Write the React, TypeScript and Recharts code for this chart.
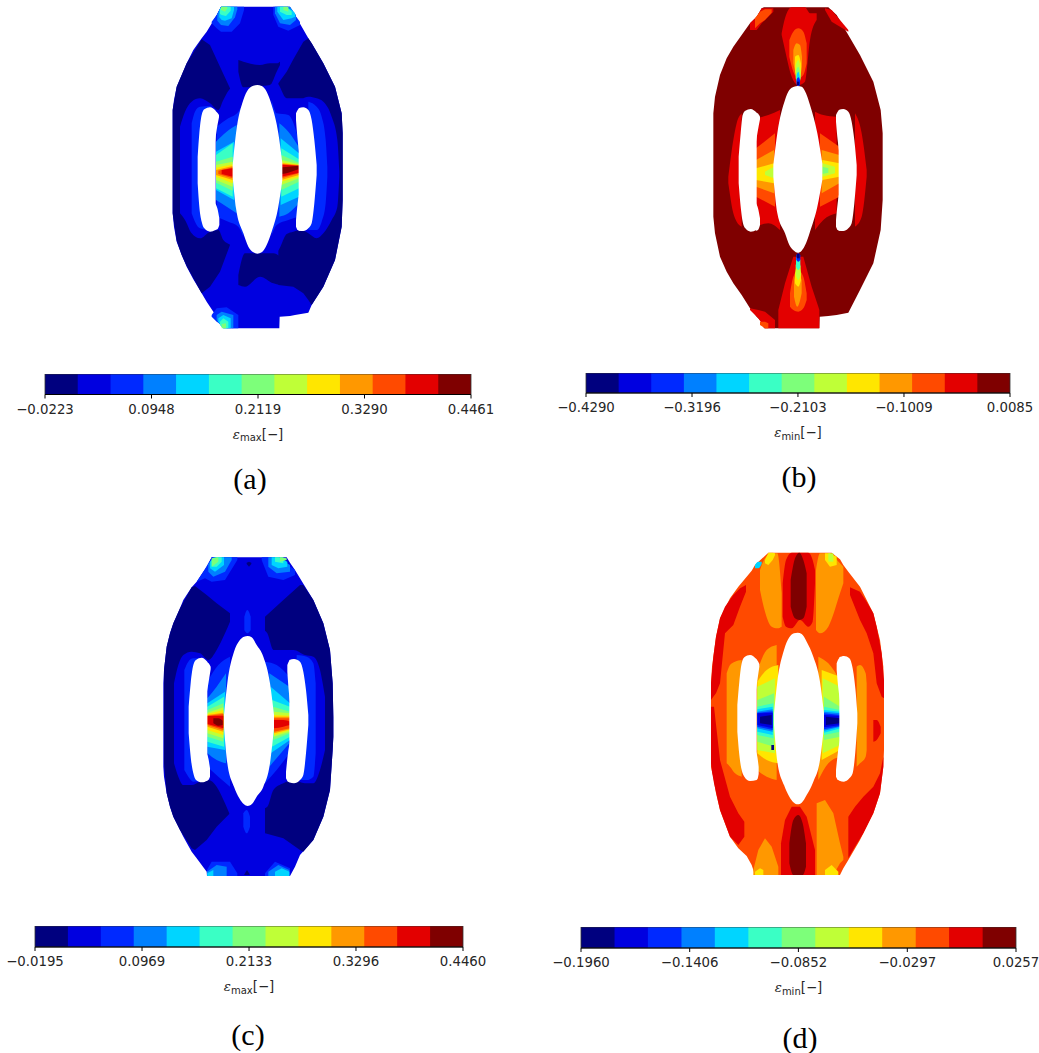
import React from "react";
import { ComposedChart, Area, XAxis, YAxis, ReferenceArea } from "recharts";

const jet = ["#00007f","#0000e0","#0029ff","#0080ff","#00d5ff","#3affc5","#7dff7a","#bfff37","#ffe600","#ff9800","#ff4a00","#e30000","#7f0000"];
const W = "#ffffff";
const L = "linear";
type Row = [number, number, number];
type Layer = [number | string, Row[], string?];

const holesA: Layer[] = [
  [W,[[218,495,530],[228,400,625],[250,300,700],[265,268,740],[280,257,757],[292,255,761],[305,258,757],[320,275,735],[335,315,695],[355,400,620],[367,490,540]]],
  [W,[[113,470,550],[118,400,620],[125,345,665],[133,328,685],[150,322,695],[167,332,690]]],
  [W,[[165,332,425],[170,336,390],[177,345,352]]],
  [W,[[165,610,690],[172,625,688],[178,655,675]]],
  [W,[[416,325,692],[430,322,693],[445,330,685],[455,360,670],[463,420,610],[470,495,525]]],
  [W,[[408,340,360],[413,330,420],[420,325,470]]],
  [W,[[408,660,680],[413,610,690],[420,570,692]]],
];
const layersA: Layer[] = [
  [1,[[38,330,640],[42,300,680],[50,260,725],[65,225,765],[80,190,800],[100,150,838],[125,115,880],[140,95,905],[160,62,935],[170,45,948],[183,20,965],[190,20,985],[358,20,985],[359,20,950],[390,20,948],[405,45,945],[445,115,938],[455,130,915],[490,190,860],[525,260,780],[545,340,680],[548,400,600]],L],
  [0,[[38,330,640],[50,260,722],[65,225,765],[80,190,798],[125,118,880],[150,135,860],[180,200,815],[210,265,735]],L],
  [0,[[355,250,855],[380,215,858],[400,178,860],[430,125,880],[445,115,900],[455,130,915],[490,190,860],[525,260,780],[545,340,680],[548,400,600]],L],
  [0,[[235,180,215],[250,185,262],[300,195,258],[330,190,255],[350,190,215],[360,185,195]]],
  [0,[[235,825,855],[255,760,860],[300,760,830],[340,760,850],[360,770,855]]],
  [1,[[60,380,640],[75,335,660],[95,305,700],[120,295,715],[150,310,695],[175,330,690],[190,300,720],[212,265,735],[240,255,760]]],
  [1,[[330,255,740],[350,250,755],[380,295,702],[400,295,695],[425,295,690],[445,290,700],[470,295,715],[490,305,700],[515,350,660],[532,420,620],[538,515,530]]],
  [2,[[95,370,640],[105,335,665],[120,320,685],[150,318,690],[165,340,670]]],
  [2,[[445,305,690],[470,320,690],[485,350,665],[497,420,610],[502,500,530]]],
  [2,[[170,380,650],[205,355,665],[235,335,680],[250,310,710]]],
  [2,[[335,300,705],[350,340,675],[385,345,660],[415,415,650]]],
  [3,[[168,425,600],[200,395,620],[230,375,640]]],
  [3,[[358,370,650],[385,395,640],[416,440,610]]],
  [4,[[168,455,570],[222,425,600]]],
  [4,[[362,415,615],[417,460,590]]],
  [5,[[168,465,565],[218,430,590]]],
  [5,[[364,445,590],[417,478,565]]],
  [6,[[168,485,548],[218,470,572]]],
  [6,[[364,465,570],[417,488,545]]],
  [7,[[168,495,540],[218,485,560]]],
  [7,[[364,480,555],[417,492,535]]],
  [8,[[168,503,530],[218,493,550]]],
  [8,[[364,487,545],[417,495,530]]],
  [9,[[168,510,525],[218,498,540]]],
  [9,[[364,490,540],[417,495,525]]],
  [10,[[175,512,522],[218,502,535]]],
  [10,[[364,492,535],[417,497,520]]],
  [11,[[185,510,522],[218,505,530]]],
  [11,[[364,494,530],[417,497,518]]],
  [12,[[366,502,522],[385,500,518],[415,497,508]]],
  [2,[[155,65,70],[170,45,85],[183,20,95],[215,20,95],[240,20,70],[252,20,30]],L],
  [3,[[172,42,62],[183,20,75],[205,20,78],[225,20,52],[232,20,28]],L],
  [4,[[178,30,52],[185,20,60],[195,20,62],[215,20,55],[222,20,30]],L],
  [5,[[180,27,42],[185,20,45],[198,20,48],[212,20,32]],L],
  [6,[[183,20,30],[195,20,35],[202,20,25]],L],
  [2,[[340,20,45],[355,20,80],[385,20,92],[420,65,75]],L],
  [3,[[345,20,40],[360,20,70],[390,20,75],[408,45,60]],L],
  [4,[[352,20,35],[370,20,60],[395,30,55],[405,40,50]],L],
  [5,[[360,20,35],[380,20,45],[395,35,45]],L],
  [6,[[370,20,30],[385,20,35]],L],
  [2,[[155,945,950],[170,925,965],[200,922,985],[235,945,985]],L],
  [3,[[170,945,960],[185,935,980],[220,945,985]],L],
  [4,[[175,955,965],[190,945,985],[212,955,985]],L],
  [5,[[180,965,975],[190,955,985],[205,965,985]],L],
  [6,[[185,972,985],[198,970,985]],L],
  ...holesA,
];

const holesB: Layer[] = [
  [W,[[220,495,530],[232,400,640],[255,300,700],[268,270,735],[282,260,752],[293,258,758],[305,260,752],[318,280,730],[330,315,695],[352,400,620],[367,490,540]]],
  [W,[[116,470,550],[122,400,620],[128,345,665],[136,332,685],[152,327,695],[170,338,690]]],
  [W,[[168,338,425],[173,340,395],[180,350,358]]],
  [W,[[168,610,692],[174,625,690],[180,655,675]]],
  [W,[[416,330,692],[430,327,693],[445,335,685],[455,365,670],[463,420,610],[470,495,525]]],
  [W,[[408,345,365],[413,335,420],[420,330,470]]],
  [W,[[408,660,680],[413,610,690],[420,570,692]]],
];
const layersB: Layer[] = [
  [12,[[40,340,650],[45,290,700],[60,225,770],[80,175,815],[100,140,850],[125,105,885],[150,70,925],[170,50,950],[185,25,965],[192,22,985],[358,22,985],[359,22,950],[385,22,948],[410,45,945],[445,105,938],[480,165,870],[520,245,790],[542,330,690],[548,400,600]],L],
  [11,[[245,100,105],[255,55,150],[275,22,230],[295,22,255],[315,22,245],[330,40,120],[350,40,60]]],
  [11,[[150,70,90],[170,50,90],[185,25,70],[220,25,35]],L],
  [11,[[375,25,30],[395,30,65],[420,60,80],[445,90,95]],L],
  [10,[[165,55,85],[180,35,70],[195,28,60],[215,28,38]],L],
  [10,[[268,120,170],[280,95,215],[295,85,235],[310,95,225],[320,130,190]]],
  [9,[[280,150,190],[290,130,225],[300,135,230],[306,170,200]]],
  [8,[[285,170,215],[295,165,240],[303,190,220]]],
  [7,[[287,195,235],[295,180,245],[302,210,235]]],
  [6,[[289,210,240],[295,200,250],[301,225,240]]],
  [4,[[290,225,250],[295,215,255],[300,235,250]]],
  [2,[[290,238,255],[295,232,258],[300,240,255]]],
  [0,[[291,245,255],[298,245,255]]],
  [11,[[235,930,985],[255,850,985],[280,770,985],[310,770,985],[335,860,985],[355,920,985],[358,930,985]],L],
  [10,[[270,880,920],[280,830,930],[295,810,935],[310,830,925],[320,880,900]]],
  [9,[[282,840,890],[292,810,920],[305,840,880]]],
  [8,[[285,820,850],[295,790,860],[303,820,840]]],
  [7,[[287,795,825],[295,780,840],[302,800,825]]],
  [5,[[288,775,800],[295,768,810],[301,780,800]]],
  [2,[[289,765,780],[295,760,785],[301,765,780]]],
  [0,[[291,762,775],[299,762,775]]],
  [11,[[150,925,930],[175,930,955],[195,935,985],[225,960,985]],L],
  [10,[[180,965,975],[195,965,985],[205,970,985]],L],
  [11,[[85,530,550],[100,420,640],[110,370,665],[125,340,680]]],
  [11,[[168,355,680],[205,345,670],[240,330,690]]],
  [11,[[345,335,690],[370,345,660],[410,350,640]]],
  [11,[[465,340,680],[485,400,650],[500,510,530]]],
  [10,[[168,445,590],[225,400,620]]],
  [9,[[168,480,560],[222,450,580]]],
  [8,[[168,505,540],[222,490,550]]],
  [7,[[195,515,525],[222,500,535]]],
  [10,[[360,400,620],[418,440,590]]],
  [9,[[365,450,580],[418,465,550]]],
  [8,[[367,480,540],[418,490,530]]],
  [7,[[367,490,530],[405,500,520]]],
  [6,[[367,500,522],[385,505,518]]],
  ...holesB,
];

const holesC: Layer[] = [
  [W,[[222,495,530],[232,400,640],[252,305,710],[268,272,745],[282,260,763],[293,258,768],[305,262,763],[320,285,740],[340,320,710],[360,400,640],[372,495,535]]],
  [W,[[116,470,550],[122,400,620],[130,345,670],[138,330,690],[155,323,697],[172,335,692]]],
  [W,[[170,335,430],[176,340,395],[182,350,358]]],
  [W,[[170,610,692],[175,625,690],[180,655,680]]],
  [W,[[418,330,697],[432,327,700],[450,335,690],[460,365,675],[468,420,610],[475,495,525]]],
  [W,[[412,345,365],[416,335,420],[422,330,470]]],
  [W,[[408,665,685],[414,610,695],[422,570,697]]],
];
const layersC: Layer[] = [
  [1,[[40,400,650],[42,360,680],[50,290,730],[60,250,770],[70,220,800],[90,175,840],[100,150,860],[125,112,905],[140,95,925],[170,50,965],[171,50,978],[185,22,978],[410,22,978],[420,38,978],[435,60,950],[450,85,915],[490,150,870],[520,220,800],[540,300,720],[548,400,600],[550,500,560]],L],
  [0,[[42,360,640],[50,290,730],[60,250,770],[70,220,800],[90,175,840],[125,112,895],[135,108,900],[170,135,870],[200,160,830],[240,190,790]],L],
  [0,[[345,200,850],[400,150,865],[450,105,900],[460,105,905],[490,150,870],[520,220,800],[540,300,720],[548,400,600],[550,500,560]],L],
  [1,[[72,400,640],[85,345,680],[100,315,705],[125,305,705],[150,310,695],[175,330,690],[200,300,710],[225,250,760],[240,215,795]]],
  [1,[[340,240,775],[352,250,770],[370,300,720],[400,300,700],[430,300,690],[465,315,700],[490,320,700],[510,360,660],[525,440,600]]],
  [2,[[103,360,660],[115,335,680],[130,325,695],[160,325,690]]],
  [2,[[440,315,690],[470,320,690],[490,340,680],[497,400,610]]],
  [2,[[283,200,240],[292,180,250],[302,200,240]]],
  [2,[[280,790,830],[290,780,850],[300,800,830]]],
  [2,[[172,395,650],[205,345,680],[240,320,710]]],
  [2,[[345,335,700],[380,345,660],[418,380,610]]],
  [3,[[172,445,610],[200,410,630],[228,370,640]]],
  [3,[[358,370,650],[418,410,580]]],
  [4,[[172,460,590],[225,425,600]]],
  [4,[[362,410,610],[420,460,570]]],
  [5,[[172,470,575],[222,440,590]]],
  [5,[[366,450,590],[420,470,560]]],
  [6,[[172,480,560],[220,460,575]]],
  [6,[[370,470,570],[420,485,550]]],
  [7,[[172,488,550],[220,472,565]]],
  [7,[[372,485,560],[420,490,545]]],
  [8,[[172,492,540],[220,480,555]]],
  [8,[[372,495,555],[420,497,540]]],
  [9,[[172,495,530],[220,488,545]]],
  [9,[[372,500,550],[420,500,538]]],
  [10,[[172,497,525],[220,492,540]]],
  [10,[[372,505,545],[420,505,535]]],
  [11,[[172,498,522],[220,497,535]]],
  [11,[[372,510,535],[400,510,530],[420,515,525]]],
  [12,[[190,505,520],[205,505,527],[218,512,525]]],
  [2,[[140,95,95],[165,57,85],[185,22,95],[225,22,90],[262,22,30]],L],
  [3,[[175,42,65],[190,22,80],[225,22,65],[245,22,30]],L],
  [4,[[180,35,55],[195,22,65],[222,22,45]],L],
  [5,[[185,30,50],[200,22,50],[215,22,35]],L],
  [6,[[185,25,50],[205,22,35]],L],
  [2,[[335,22,30],[355,22,80],[400,35,90],[435,60,75]],L],
  [3,[[355,22,50],[380,22,70],[420,45,65]],L],
  [4,[[365,22,45],[385,22,55],[412,35,50]],L],
  [5,[[375,22,35],[400,22,40]],L],
  [6,[[390,22,35],[410,25,30]],L],
  [0,[[290,38,42],[297,35,50],[304,38,42]],L],
  [2,[[171,960,970],[185,935,978],[240,935,978],[262,970,978]],L],
  [3,[[171,965,978],[200,945,978],[230,950,978]],L],
  [4,[[172,970,978],[190,960,978]],L],
  [2,[[345,970,978],[375,935,978],[420,955,978]],L],
  [3,[[355,965,978],[385,945,978],[418,960,978]],L],
  [4,[[375,965,978],[395,955,978],[418,965,978]],L],
  [0,[[283,973,975],[291,960,975],[299,973,975]],L],
  ...holesC,
];

const holesD: Layer[] = [
  [W,[[222,490,525],[232,395,635],[252,300,705],[268,262,740],[282,250,758],[293,248,763],[305,252,758],[320,275,735],[340,320,695],[360,395,630],[372,490,530]]],
  [W,[[112,465,545],[118,395,615],[125,340,660],[133,322,680],[150,315,693],[170,328,690]]],
  [W,[[168,328,420],[173,332,385],[178,342,350]]],
  [W,[[168,605,690],[172,620,688],[176,650,672]]],
  [W,[[418,322,692],[432,318,695],[448,325,685],[458,355,670],[466,415,605],[472,490,520]]],
  [W,[[410,340,360],[415,328,415],[422,322,465]]],
  [W,[[408,660,680],[414,605,690],[422,565,692]]],
];
const layersD: Layer[] = [
  [10,[[33,400,650],[36,350,665],[40,320,682],[48,260,730],[60,205,780],[90,145,860],[115,110,895],[140,80,918],[155,62,945],[165,45,975],[205,8,975],[395,8,975],[420,28,975],[430,45,955],[445,65,930],[480,110,870],[520,190,790],[540,270,730],[550,350,650],[552,450,600]],L],
  [11,[[33,400,450],[40,320,440],[48,260,430],[60,205,400],[75,170,250],[100,135,225],[120,115,170],[138,105,125]],L],
  [11,[[33,470,640],[36,470,665],[42,470,700],[60,630,780],[90,740,860],[115,790,885],[133,815,860]],L],
  [11,[[450,112,135],[480,125,210],[500,155,250],[520,190,310],[530,230,400],[545,310,440],[552,390,445]],L],
  [11,[[520,510,575],[530,510,570],[542,530,550]]],
  [11,[[445,800,925],[465,770,890],[490,740,850],[520,710,790],[540,670,730],[550,620,650]],L],
  [9,[[180,60,120],[195,25,185],[215,10,230],[232,10,235],[245,130,230]]],
  [9,[[348,60,240],[360,10,250],[385,10,230],[420,40,130],[430,50,100]]],
  [8,[[195,30,40],[205,8,45],[218,8,30],[225,10,15]],L],
  [8,[[375,10,30],[390,10,50],[410,20,45]],L],
  [7,[[385,10,35],[400,10,35]],L],
  [4,[[165,45,55],[175,35,55],[185,35,42]]],
  [11,[[248,100,200],[258,30,230],[275,8,235],[300,8,210],[325,8,230],[338,30,215],[345,60,100]]],
  [12,[[272,90,170],[285,25,205],[298,8,210],[310,30,205],[320,70,170]]],
  [9,[[160,960,975],[175,900,975],[195,865,975],[215,890,975],[235,950,975]],L],
  [9,[[350,760,975],[375,750,975],[400,790,975],[420,880,940],[430,920,930]],L],
  [8,[[165,965,975],[180,955,975],[190,960,975]],L],
  [8,[[375,960,975],[395,945,975],[415,965,975]],L],
  [11,[[243,880,975],[255,810,975],[275,770,975],[300,770,975],[320,800,975],[335,860,975],[345,900,975]],L],
  [12,[[268,880,940],[280,810,975],[295,795,975],[308,820,975],[318,880,950]]],
  [9,[[80,370,640],[90,345,650],[105,335,670],[125,330,680]]],
  [9,[[470,350,650],[480,345,640],[497,370,620],[500,400,600]]],
  [9,[[170,370,660],[200,300,680],[230,285,690]]],
  [9,[[355,320,690],[385,340,640],[420,390,620]]],
  [8,[[172,395,610],[200,360,630],[235,345,640]]],
  [8,[[365,360,630],[420,380,600]]],
  [7,[[172,410,600],[225,385,610]]],
  [7,[[368,385,610],[420,410,585]]],
  [6,[[172,450,575],[222,430,590]]],
  [6,[[372,440,570],[420,470,560]]],
  [5,[[172,470,555],[220,460,565]]],
  [5,[[372,470,555],[420,480,545]]],
  [4,[[172,478,545],[218,470,555]]],
  [4,[[372,480,548],[422,485,535]]],
  [3,[[172,485,535],[218,478,545]]],
  [3,[[372,485,542],[422,490,530]]],
  [2,[[172,488,530],[218,484,540]]],
  [2,[[372,490,538],[422,495,528]]],
  [1,[[172,490,525],[218,488,535]]],
  [1,[[372,495,532],[422,498,525]]],
  [0,[[180,500,520],[215,495,525]]],
  [0,[[378,500,525],[420,505,520]]],
  [0,[[214,585,600],[222,585,600]]],
  ...holesD,
];

const edgesA = [-0.0223,0.0137,0.0498,0.0858,0.1218,0.1579,0.1939,0.2299,0.2659,0.302,0.338,0.374,0.4101,0.4461];
const ticksA = [-0.0223,0.0948,0.2119,0.329,0.4461];
const edgesB = [-0.429,-0.3953,-0.3617,-0.328,-0.2944,-0.2607,-0.2271,-0.1934,-0.1598,-0.1261,-0.0925,-0.0588,-0.0252,0.0085];
const ticksB = [-0.429,-0.3196,-0.2103,-0.1009,0.0085];
const edgesC = [-0.0195,0.0163,0.0521,0.0879,0.1237,0.1595,0.1954,0.2312,0.267,0.3028,0.3386,0.3744,0.4102,0.446];
const ticksC = [-0.0195,0.0969,0.2133,0.3296,0.446];
const edgesD = [-0.196,-0.1789,-0.1619,-0.1448,-0.1278,-0.1107,-0.0937,-0.0766,-0.0595,-0.0425,-0.0254,-0.0084,0.0087,0.0257];
const ticksD = [-0.196,-0.1406,-0.0852,-0.0297,0.0257];

function Field({ left, top, layers }: { left: number; top: number; layers: Layer[] }) {
  return (
    <div style={{ position: "absolute", left, top, filter: "blur(0.5px)" }}>
      <ComposedChart width={200} height={335} margin={{ top: 0, right: 0, bottom: 0, left: 0 }}>
        <XAxis type="number" dataKey="x" domain={[0, 600]} hide allowDataOverflow />
        <YAxis type="number" domain={[0, 1005]} reversed hide allowDataOverflow />
        {layers.map(([lv, rows, curve], i) => (
          <Area
            key={i}
            data={rows.map(([x, lo, hi]) => ({ x, band: [lo, hi] }))}
            dataKey="band"
            type={(curve || "monotone") as any}
            stroke="none"
            fill={typeof lv === "number" ? jet[lv] : lv}
            fillOpacity={1}
            dot={false}
            activeDot={false}
            isAnimationActive={false}
          />
        ))}
      </ComposedChart>
    </div>
  );
}

const fmt = (v: number) => (v < 0 ? "\u2212" : "") + Math.abs(v).toFixed(4);

function Colorbar({ x0, x1, y0, y1, edges, ticks, sub }: { x0: number; x1: number; y0: number; y1: number; edges: number[]; ticks: number[]; sub: string }) {
  const pad = 45;
  const w = x1 - x0;
  const h = y1 - y0;
  const top = edges[edges.length - 1];
  return (
    <div style={{ position: "absolute", left: x0 - pad, top: y0 }}>
      <ComposedChart width={w + 2 * pad} height={h + 50} margin={{ top: 0, right: pad, bottom: 0, left: pad }}>
        <XAxis
          type="number"
          dataKey="c"
          domain={[ticks[0], ticks[4]]}
          ticks={ticks}
          interval={0}
          tickFormatter={fmt}
          tickLine={{ stroke: "#000" }}
          axisLine={{ stroke: "#000" }}
          tickSize={4}
          tickMargin={6}
          height={50}
          tick={{ fontFamily: "DejaVu Sans", fontSize: 13.3, fill: "#262626" }}
          allowDataOverflow
          label={(p: any) => (
            <text x={pad + w / 2} y={h + 44} textAnchor="middle" fontFamily="DejaVu Sans" fontSize={13.3} fill="#262626">
              <tspan fontStyle="italic" fontFamily="DejaVu Serif">ε</tspan>
              <tspan fontSize={10} dy={2.5}>{sub}</tspan>
              <tspan dy={-2.5}>[−]</tspan>
            </text>
          )}
        />
        <YAxis type="number" domain={[0, 1]} hide allowDataOverflow />
        {jet.map((color, i) => (
          <Area
            key={i}
            data={[{ c: edges[i], band: [0, 1] }, { c: top, band: [0, 1] }]}
            dataKey="band"
            type="linear"
            stroke="none"
            fill={color}
            fillOpacity={1}
            dot={false}
            activeDot={false}
            isAnimationActive={false}
          />
        ))}
        <ReferenceArea x1={ticks[0]} x2={ticks[4]} y1={0} y2={1} fill="none" stroke="#333" strokeWidth={0.8} ifOverflow="visible" />
      </ComposedChart>
    </div>
  );
}

function Caption({ cx, cy, text }: { cx: number; cy: number; text: string }) {
  return (
    <div style={{ position: "absolute", left: cx - 40, top: cy - 20, width: 80, height: 40, lineHeight: "40px", textAlign: "center", fontFamily: "Liberation Serif", fontSize: 30, color: "#000" }}>
      {text}
    </div>
  );
}

export default function App() {
  return (
    <div style={{ position: "absolute", left: 0, top: 0, width: 1039, height: 1053, background: "#fff", overflow: "hidden" }}>
      <Field left={160} top={0} layers={layersA} />
      <Field left={700} top={0} layers={layersB} />
      <Field left={150} top={550} layers={layersC} />
      <Field left={700} top={550} layers={layersD} />
      <Colorbar x0={45} x1={471} y0={373.5} y1={394} edges={edgesA} ticks={ticksA} sub="max" />
      <Colorbar x0={586} x1={1010} y0={373} y1={393} edges={edgesB} ticks={ticksB} sub="min" />
      <Colorbar x0={35} x1={463} y0={926} y1={947} edges={edgesC} ticks={ticksC} sub="max" />
      <Colorbar x0={581} x1={1016} y0={927} y1={948} edges={edgesD} ticks={ticksD} sub="min" />
      <Caption cx={250} cy={479} text="(a)" />
      <Caption cx={799} cy={477} text="(b)" />
      <Caption cx={248} cy={1035} text="(c)" />
      <Caption cx={800} cy={1038} text="(d)" />
    </div>
  );
}
